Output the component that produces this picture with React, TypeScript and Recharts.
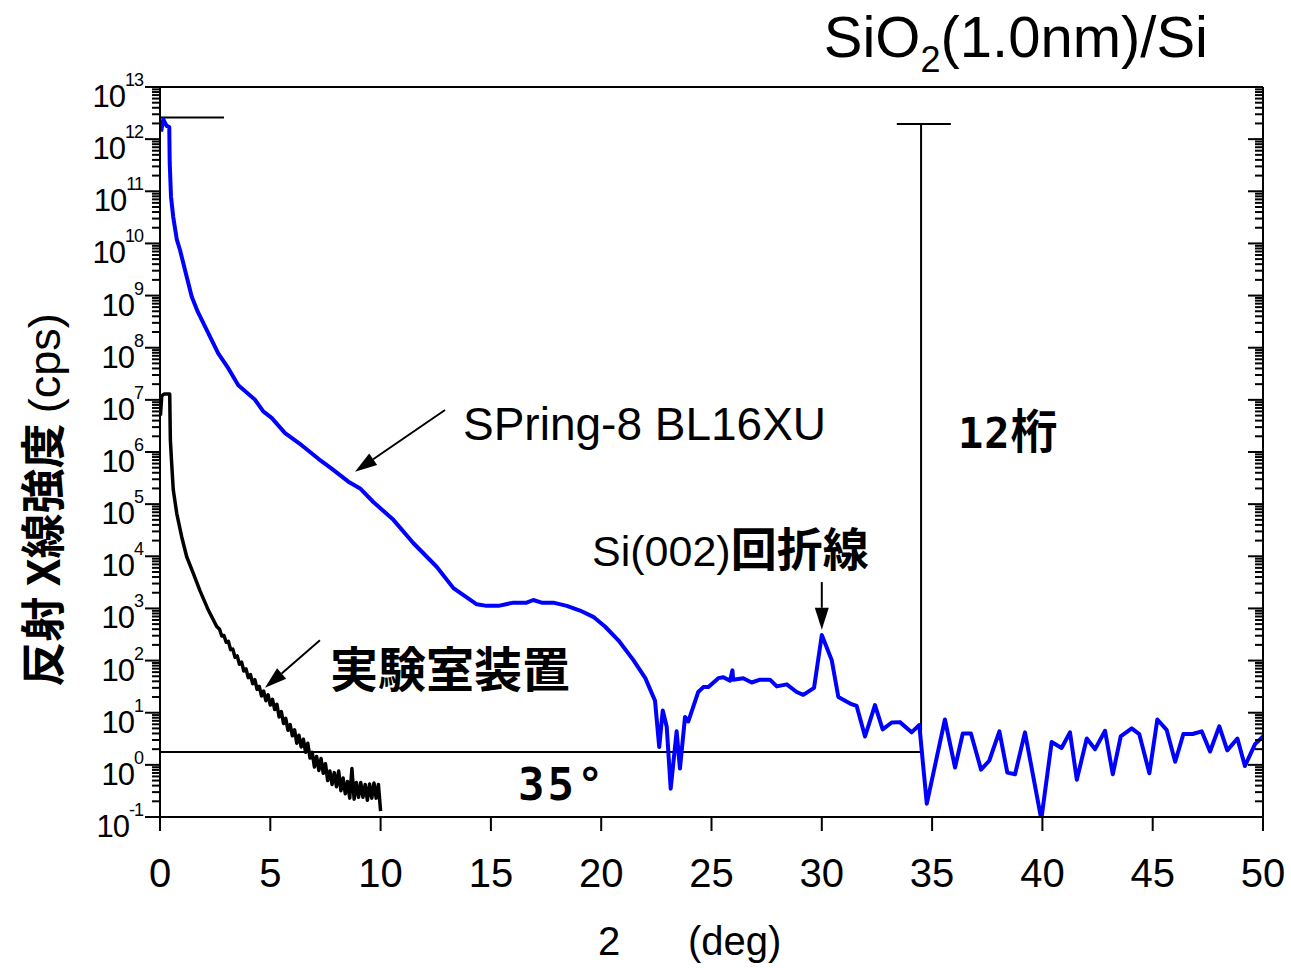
import React from 'react';
import {
  ComposedChart,
  Line,
  XAxis,
  YAxis,
  ReferenceLine,
} from 'recharts';

// SPring-8 BL16XU reflectivity (2theta deg, cps)
const blueX = [
  0.05, 0.15, 0.3, 0.42, 0.44, 0.5, 0.6, 0.76, 0.91, 1.21, 1.44, 1.71, 1.96, 2.64, 3.1, 3.55,
  4.31, 4.68, 5.06, 5.67, 6.42, 7.18, 7.78, 8.54, 9.07, 9.67, 10.58, 11.48, 12.54, 13.3, 14.36,
  14.81, 15.34, 16.02, 16.62, 16.92, 17.3, 17.83, 18.44, 19.04, 19.64, 20.17, 20.78, 21.46, 22.0,
  22.44, 22.63, 22.79, 22.97, 23.15, 23.42, 23.57, 23.8, 23.95, 24.4, 24.63, 24.86, 25.31, 25.54,
  25.84, 25.95, 25.98, 26.44, 26.82, 27.2, 27.65, 27.96, 28.41, 28.86, 29.16, 29.65, 30.0, 30.45,
  30.75, 31.28, 31.58, 31.96, 32.41, 32.76, 33.17, 33.54, 34.07, 34.42, 34.76, 35.58, 36.04, 36.39,
  36.76, 37.22, 37.59, 38.05, 38.41, 38.76, 39.21, 39.95, 40.42, 40.87, 41.25, 41.56, 42.01, 42.39,
  42.84, 43.19, 43.55, 44.05, 44.39, 44.85, 45.21, 45.63, 46.02, 46.39, 46.81, 47.22, 47.6, 48.02,
  48.38, 48.84, 49.18, 49.64, 50.0,
];
const blueY = [
  1.4e12, 2.4e12, 1.8e12, 1.7e12, 3.5e11, 7.8e10, 3.2e10, 1.2e10, 7.4e9, 2.3e9, 9.5e8, 4.9e8, 3.0e8,
  7.8e7, 4.0e7, 1.9e7, 1.0e7, 6.0e6, 4.5e6, 2.3e6, 1.35e6, 7.4e5, 4.8e5, 2.7e5, 2.0e5, 1.1e5, 5.0e4,
  1.8e4, 6300, 2450, 1200, 1120, 1120, 1290, 1290, 1450, 1290, 1290, 1120, 910, 690, 450, 245, 102,
  46, 17, 2.2, 11, 5.4, 0.35, 4.4, 0.85, 8.3, 6.8, 25, 31, 31, 46, 48, 41, 65, 43, 46, 38, 43, 43,
  32, 35, 25, 22, 30, 310, 102, 20, 15, 13.5, 3.5, 14, 4.8, 6.5, 6.6, 4.2, 5.8, 0.18, 7.4, 0.89,
  4.0, 4.0, 0.81, 1.2, 4.4, 0.71, 0.66, 4.2, 0.09, 2.75, 2.1, 4.2, 0.52, 3.2, 2.0, 4.5, 0.66, 3.5,
  5.0, 3.9, 0.69, 7.4, 4.7, 1.15, 3.9, 3.9, 4.4, 1.8, 5.5, 1.9, 3.2, 0.95, 2.5, 3.5,
];

// laboratory instrument
const labX = [
  0.02, 0.08, 0.2, 0.44, 0.47, 0.53, 0.6, 0.76, 0.98, 1.21, 1.51, 1.81, 2.19, 2.57,
  2.7, 2.8, 2.9, 3.0, 3.1, 3.2, 3.3, 3.4, 3.5, 3.6, 3.7, 3.8, 3.9, 4.0, 4.1, 4.2, 4.3, 4.4, 4.5,
  4.6, 4.7, 4.8, 4.9, 5.0, 5.1, 5.2, 5.3, 5.4, 5.5, 5.6, 5.7, 5.8, 5.9, 6.0, 6.1, 6.2, 6.3, 6.4,
  6.5, 6.6, 6.7, 6.8, 6.9, 7.0, 7.1, 7.2, 7.3, 7.4, 7.5, 7.6, 7.7, 7.8, 7.9, 8.0, 8.1, 8.2, 8.3,
  8.4, 8.5, 8.6, 8.7, 8.8, 8.9, 9.0, 9.1, 9.2, 9.3, 9.4, 9.5, 9.6, 9.7, 9.8, 9.9, 10.0,
];
const labY = [
  5.0e6, 1.2e7, 1.3e7, 1.3e7, 1.7e6, 6.0e5, 1.9e5, 6.6e4, 2.4e4, 9800, 4700, 2200, 930, 450,
  398, 295, 302, 224, 234, 162, 166, 115, 123, 85, 93, 63, 69, 47, 54, 36, 43, 28, 32,
  21, 26, 17, 22, 14, 18, 11.5, 14.5, 8.3, 10.5, 6.2, 7.8, 4.6, 5.9, 3.6, 4.7, 2.6, 3.7, 2.2,
  3.1, 1.74, 2.6, 1.35, 1.74, 0.91, 1.45, 0.78, 1.32, 0.69, 1.05, 0.5, 0.76, 0.42, 0.71, 0.38, 0.76, 0.32, 0.56,
  0.28, 0.48, 0.23, 0.85, 0.22, 0.46, 0.24, 0.46, 0.24, 0.42, 0.21, 0.43, 0.23, 0.45, 0.23, 0.42, 0.13,
];

const xTicks = [0, 5, 10, 15, 20, 25, 30, 35, 40, 45, 50];
const yMajorTicks = [0.1, 1, 10, 1e2, 1e3, 1e4, 1e5, 1e6, 1e7, 1e8, 1e9, 1e10, 1e11, 1e12, 1e13];
const yExponents = ['-1', '0', '1', '2', '3', '4', '5', '6', '7', '8', '9', '10', '11', '12', '13'];
const yMinorMult = [2, 3, 4, 5, 6, 7, 8, 9];

// annotation lines (2theta, cps)
const guideLines = [
  [{ x: 0, y: 2.6e12 }, { x: 2.9, y: 2.6e12 }],
  [{ x: 33.4, y: 1.95e12 }, { x: 35.85, y: 1.95e12 }],
  [{ x: 34.5, y: 1.95e12 }, { x: 34.5, y: 1.76 }],
  [{ x: 0, y: 1.76 }, { x: 34.5, y: 1.76 }],
];
const arrows = [
  [{ x: 12.92, y: 6.4e6 }, { x: 8.84, y: 4.2e5 }],
  [{ x: 7.25, y: 245 }, { x: 4.76, y: 30 }],
  [{ x: 30.0, y: 3200 }, { x: 30.0, y: 390 }],
];

const W = 1291;
const H = 968;
const LEFT = 160;
const RIGHT = 1263;
const TOP = 87;
const BOTTOM = 817;
const SANS = '"Liberation Sans", Arial, sans-serif';
const CJK = '"Noto Sans CJK JP", "Noto Sans CJK SC", sans-serif';
const MONO = '"DejaVu Sans Mono", monospace';

const blueData = blueX.map((x, i) => ({ x, y: blueY[i] }));
const labData = labX.map((x, i) => ({ x, y: labY[i] }));
const yTicks = yMajorTicks.flatMap((d, i) =>
  i < yMajorTicks.length - 1 ? [d, ...yMinorMult.map((m) => m * d)] : [d]
);

const LeftTick = (props: any) => {
  const { y, payload } = props;
  const idx = yMajorTicks.indexOf(payload.value);
  const major = idx >= 0;
  return (
    <g>
      <line x1={LEFT - (major ? 15 : 8)} x2={LEFT} y1={y} y2={y} stroke="#000" strokeWidth={2} />
      {major && (
        <text x={143} y={y + 20} textAnchor="end" fontSize={31} fontFamily={SANS} fill="#000" letterSpacing={-1}>
          10
          <tspan dy={-21} fontSize={18} letterSpacing={-1}>{yExponents[idx]}</tspan>
        </text>
      )}
    </g>
  );
};

const RightTick = (props: any) => {
  const { y, payload } = props;
  const major = yMajorTicks.indexOf(payload.value) >= 0;
  return <line x1={RIGHT - (major ? 15 : 8)} x2={RIGHT} y1={y} y2={y} stroke="#000" strokeWidth={2} />;
};

const BottomTick = (props: any) => {
  const { x, payload } = props;
  return (
    <g>
      <line x1={x} x2={x} y1={BOTTOM} y2={BOTTOM + 14} stroke="#000" strokeWidth={2} />
      <text x={x} y={BOTTOM + 70} textAnchor="middle" fontSize={40} fontFamily={SANS} fill="#000">
        {payload.value}
      </text>
    </g>
  );
};

const ArrowShape = (props: any) => {
  const { x1, y1, x2, y2 } = props;
  const len = Math.hypot(x2 - x1, y2 - y1) || 1;
  const ux = (x2 - x1) / len;
  const uy = (y2 - y1) / len;
  const hl = 22;
  const hw = 7;
  const bx = x2 - ux * hl;
  const by = y2 - uy * hl;
  return (
    <g>
      <line x1={x1} y1={y1} x2={bx} y2={by} stroke="#000" strokeWidth={2} />
      <polygon
        points={`${x2},${y2} ${bx - uy * hw},${by + ux * hw} ${bx + uy * hw},${by - ux * hw}`}
        fill="#000"
      />
    </g>
  );
};

export default function App() {
  return (
    <div style={{ position: 'absolute', left: 0, top: 0, width: W, height: H, background: '#fff' }}>
      <ComposedChart width={W} height={H} margin={{ top: 0, right: 0, bottom: 0, left: 0 }}>
        <XAxis
          xAxisId="bottom"
          dataKey="x"
          type="number"
          domain={[0, 50]}
          ticks={xTicks}
          interval={0}
          height={H - BOTTOM}
          axisLine={{ stroke: '#000', strokeWidth: 2 }}
          tickLine={false}
          tick={<BottomTick />}
          allowDataOverflow
        />
        <XAxis
          xAxisId="top"
          orientation="top"
          type="number"
          domain={[0, 50]}
          height={TOP}
          axisLine={{ stroke: '#000', strokeWidth: 2 }}
          tickLine={false}
          tick={false}
        />
        <YAxis
          yAxisId="left"
          type="number"
          scale="log"
          domain={[0.1, 1e13]}
          ticks={yTicks}
          interval={0}
          width={LEFT}
          axisLine={{ stroke: '#000', strokeWidth: 2 }}
          tickLine={false}
          tick={<LeftTick />}
          allowDataOverflow
        />
        <YAxis
          yAxisId="right"
          orientation="right"
          type="number"
          scale="log"
          domain={[0.1, 1e13]}
          ticks={yTicks}
          interval={0}
          width={W - RIGHT}
          axisLine={{ stroke: '#000', strokeWidth: 2 }}
          tickLine={false}
          tick={<RightTick />}
          allowDataOverflow
        />
        {guideLines.map((seg, i) => (
          <ReferenceLine
            key={`g${i}`}
            xAxisId="bottom"
            yAxisId="left"
            segment={seg}
            stroke="#000"
            strokeWidth={2}
            ifOverflow="visible"
          />
        ))}
        <Line
          xAxisId="bottom"
          yAxisId="left"
          data={labData}
          dataKey="y"
          type="linear"
          stroke="#000"
          strokeWidth={3.5}
          strokeLinejoin="round"
          dot={false}
          isAnimationActive={false}
        />
        <Line
          xAxisId="bottom"
          yAxisId="left"
          data={blueData}
          dataKey="y"
          type="linear"
          stroke="#0000ff"
          strokeWidth={4}
          strokeLinejoin="round"
          dot={false}
          isAnimationActive={false}
        />
        {arrows.map((seg, i) => (
          <ReferenceLine
            key={`a${i}`}
            xAxisId="bottom"
            yAxisId="left"
            segment={seg}
            stroke="#000"
            ifOverflow="visible"
            shape={<ArrowShape />}
          />
        ))}
      </ComposedChart>
      <svg
        width={W}
        height={H}
        style={{ position: 'absolute', left: 0, top: 0, pointerEvents: 'none' }}
      >
        <text x={1208} y={57} textAnchor="end" fontSize={58} fontFamily={SANS} fill="#000">
          SiO<tspan fontSize={36} dy={15}>2</tspan>
          <tspan dy={-15}>(1.0nm)/Si</tspan>
        </text>
        <text x={463} y={440} fontSize={46} fontFamily={SANS} fill="#000">
          SPring-8 BL16XU
        </text>
        <text x={958} y={448} fontSize={42} fontWeight="bold" fill="#000">
          <tspan fontFamily={MONO} letterSpacing={1}>12</tspan>
          <tspan fontFamily={CJK} fontSize={47}>桁</tspan>
        </text>
        <text x={592} y={566} fontSize={43} fontFamily={SANS} fill="#000">
          Si(002)
          <tspan fontFamily={CJK} fontWeight="bold" fontSize={46}>回折線</tspan>
        </text>
        <text x={330} y={687} fontSize={48} fontFamily={CJK} fontWeight="bold" fill="#000">
          実験室装置
        </text>
        <text x={518} y={800} fontSize={44} fontFamily={MONO} fontWeight="bold" letterSpacing={3} fill="#000">
          35°
        </text>
        <text x={609} y={955} textAnchor="middle" fontSize={40} fontFamily={SANS} fill="#000">
          2
        </text>
        <text x={688} y={955} fontSize={40} fontFamily={SANS} fill="#000">
          (deg)
        </text>
        <text
          transform="translate(60,500) rotate(-90)"
          textAnchor="middle"
          fontSize={45}
          fontWeight="bold"
          fontFamily={CJK}
          fill="#000"
        >
          反射 X線強度 <tspan fontFamily={SANS} fontWeight="normal">(cps)</tspan>
        </text>
      </svg>
    </div>
  );
}
